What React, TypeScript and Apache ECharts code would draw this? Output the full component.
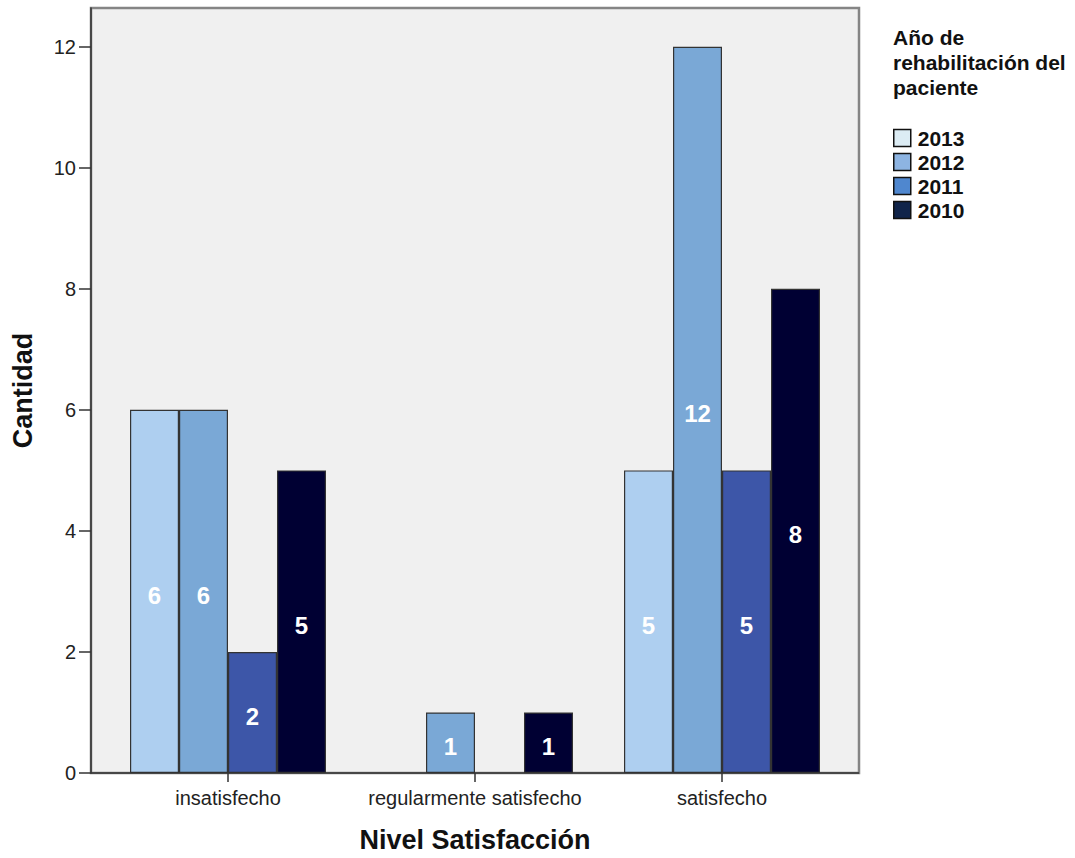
import React, { useEffect, useRef } from "react";
import * as echarts from "echarts";

const categories = ["insatisfecho", "regularmente satisfecho", "satisfecho"];
const years = ["2013", "2012", "2011", "2010"];
const values2013 = [6, null, 5];
const values2012 = [6, 1, 12];
const values2011 = [2, null, 5];
const values2010 = [5, 1, 8];
const barColors = ["#aecff0", "#7aa8d6", "#3d56a8", "#000033"];
const legendColors = ["#dcecf4", "#8db4e2", "#4f87cf", "#10244a"];

export default function App() {
  const ref = useRef<HTMLDivElement>(null);
  useEffect(() => {
    if (!ref.current) return;
    const chart = echarts.init(ref.current, null, { renderer: "svg" });
    const seriesData = [values2013, values2012, values2011, values2010];
    const font = "'Liberation Sans', Arial, sans-serif";
    chart.setOption({
      animation: false,
      backgroundColor: "#ffffff",
      grid: { left: 104.5, right: 229.5, top: 8, bottom: 83, containLabel: false },
      graphic: [
        {
          type: "rect",
          z: -10,
          shape: { x: 91, y: 8, width: 768, height: 765 },
          style: { fill: "#f0f0f0", stroke: "#858585", lineWidth: 2.5 },
        },
        {
          type: "line",
          z: 10,
          shape: { x1: 91, y1: 773, x2: 859, y2: 773 },
          style: { stroke: "#333333", lineWidth: 1.5 },
        },
        {
          type: "text",
          left: 893,
          top: 25,
          style: {
            text: "Año de\nrehabilitación del\npaciente",
            font: `bold 21px ${font}`,
            fill: "#111",
            lineHeight: 25,
          },
        },
      ],
      legend: {
        orient: "vertical",
        left: 888,
        top: 121,
        itemWidth: 17,
        itemHeight: 17,
        itemGap: 0,
        icon: "rect",
        textStyle: { fontFamily: font, fontWeight: "bold", fontSize: 21, lineHeight: 24, color: "#111", padding: [0, 0, 0, 2] },
        data: years.map((y, i) => ({
          name: y,
          itemStyle: { color: legendColors[i], borderColor: "#111", borderWidth: 1.5 },
        })),
      },
      xAxis: {
        type: "category",
        data: categories,
        name: "Nivel Satisfacción",
        nameLocation: "middle",
        nameGap: 53,
        nameTextStyle: { fontFamily: font, fontWeight: "bold", fontSize: 27, color: "#111" },
        axisLine: { show: false },
        axisTick: { show: true, alignWithLabel: true, length: 9, lineStyle: { color: "#333", width: 1.5 } },
        axisLabel: { fontFamily: font, fontSize: 20, color: "#222", margin: 15, interval: 0 },
      },
      yAxis: {
        type: "value",
        min: 0,
        max: 12.64,
        interval: 2,
        offset: 13.5,
        name: "Cantidad",
        nameLocation: "middle",
        nameGap: 55,
        nameRotate: 90,
        nameTextStyle: { fontFamily: font, fontWeight: "bold", fontSize: 27, color: "#111" },
        splitLine: { show: false },
        axisLine: { show: true, lineStyle: { color: "#333", width: 1.5 } },
        axisTick: { show: true, length: 12, lineStyle: { color: "#333", width: 1.5 } },
        axisLabel: { fontFamily: font, fontSize: 20, color: "#222", margin: 15, showMaxLabel: false },
      },
      series: years.map((y, i) => ({
        name: y,
        type: "bar",
        data: seriesData[i],
        barWidth: 49,
        barGap: "0%",
        itemStyle: { color: barColors[i], borderColor: "#333", borderWidth: 1.2 },
        label: {
          show: true,
          position: "inside",
          offset: [0, 4],
          color: "#ffffff",
          fontFamily: font,
          fontWeight: "bold",
          fontSize: 24,
        },
      })),
    });
    return () => chart.dispose();
  }, []);
  return (
    <div
      ref={ref}
      style={{ position: "fixed", left: 0, top: 0, width: 1075, height: 858 }}
    />
  );
}
